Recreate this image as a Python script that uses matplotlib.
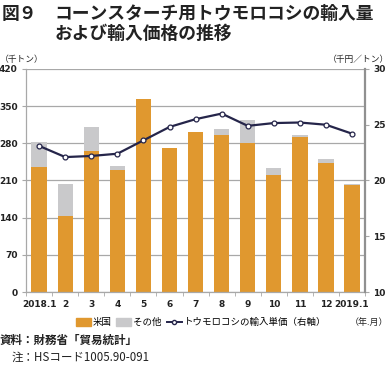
import matplotlib
matplotlib.use("Agg")
import matplotlib.pyplot as plt
import numpy as np
from matplotlib.lines import Line2D
from matplotlib.patches import Patch

plt.rcParams['font.family'] = ['Noto Sans CJK JP', 'DejaVu Sans']

months = ["2018.1", "2", "3", "4", "5", "6", "7", "8", "9", "10", "11", "12", "2019.1"]
usa = [235, 143, 266, 229, 364, 271, 302, 295, 280, 220, 292, 243, 201]
other = [47, 60, 45, 9, 0, 0, 0, 12, 44, 13, 4, 8, 2]
price = [23.1, 22.1, 22.2, 22.4, 23.6, 24.8, 25.5, 26.0, 24.9, 25.15, 25.2, 25.0, 24.2]

c_us = "#E0982F"
c_ot = "#C9C9CB"
c_line = "#25254A"
c_grid = "#A8A8A8"

fig = plt.figure(figsize=(3.9, 3.65), dpi=100)
ax = fig.add_axes([0.067, 0.2, 0.869, 0.611])
x = np.arange(len(months))
w = 0.59
ax.bar(x, usa, w, color=c_us, zorder=2)
ax.bar(x, other, w, bottom=usa, color=c_ot, zorder=2)
ax.set_ylim(0, 420)
ax.set_xlim(-0.5, len(months) - 0.5)
ax.set_yticks(np.arange(0, 421, 70))
ax.yaxis.grid(True, color=c_grid, lw=0.9, zorder=0)
ax.set_axisbelow(True)
for s in ["top", "right"]:
    ax.spines[s].set_visible(False)
ax.spines["left"].set_color(c_grid)
ax.spines["bottom"].set_color(c_grid)
ax.spines["left"].set_linewidth(0.9)
ax.spines["bottom"].set_linewidth(0.9)
ax.set_xticks(x)
ax.set_xticklabels(months)
ax.set_xticks(np.arange(-0.5, len(months), 1), minor=True)
ax.tick_params(axis="x", which="major", length=0, labelsize=6.5, pad=6, colors="#222222")
ax.tick_params(axis="x", which="minor", length=3, color=c_grid, direction="out")
ax.tick_params(axis="y", length=3, color=c_grid, labelsize=6.5, pad=3, colors="#222222")
for lab in ax.get_xticklabels() + ax.get_yticklabels():
    lab.set_fontweight("bold")
    lab.set_family(["DejaVu Sans"])

ax2 = ax.twinx()
ax2.plot(x, price, color=c_line, lw=1.6, marker="o", ms=3.5, mfc="white", mec=c_line, mew=0.9, zorder=3)
ax2.set_ylim(10, 30)
ax2.set_yticks([10, 15, 20, 25, 30])
for s in ["top", "left", "bottom"]:
    ax2.spines[s].set_visible(False)
ax2.spines["right"].set_color("#909090")
ax2.spines["right"].set_linewidth(1.6)
ax2.tick_params(axis="y", length=3, color=c_grid, labelsize=6.5, pad=3, colors="#222222")
for lab in ax2.get_yticklabels():
    lab.set_fontweight("bold")
    lab.set_family(["DejaVu Sans"])

fig.text(0.005, 0.962, "図９", fontsize=12.8, fontweight="bold", color="#222222", va="center")
fig.text(0.14, 0.962, "コーンスターチ用トウモロコシの輸入量", fontsize=12.8, fontweight="bold", color="#222222", va="center")
fig.text(0.14, 0.907, "および輸入価格の推移", fontsize=12.8, fontweight="bold", color="#222222", va="center")

fig.text(0.0, 0.836, "（千トン）", fontsize=6.3, color="#222222", va="center")
fig.text(0.998, 0.836, "（千円／トン）", fontsize=6.3, color="#222222", va="center", ha="right")
fig.text(0.995, 0.116, "（年.月）", fontsize=6.5, color="#222222", va="center", ha="right")

handles = [Patch(color=c_us, label="米国"), Patch(color=c_ot, label="その他"),
           Line2D([0], [0], color=c_line, lw=1.4, marker="o", ms=3, mfc="white", mec=c_line,
                  label="トウモロコシの輸入単価（右軸）")]
fig.legend(handles=handles, loc="center", bbox_to_anchor=(0.515, 0.116), ncol=3, frameon=False,
           fontsize=6.8, handlelength=1.6, handleheight=0.9, handletextpad=0.2, columnspacing=0.5)

fig.text(0.0, 0.068, "資料：財務省「貿易統計」", fontsize=8.3, fontweight="bold", color="#222222", va="center")
fig.text(0.03, 0.02, "注：HSコード1005.90-091", fontsize=8.3, color="#222222", va="center")

fig.savefig("out.png", dpi=100)
